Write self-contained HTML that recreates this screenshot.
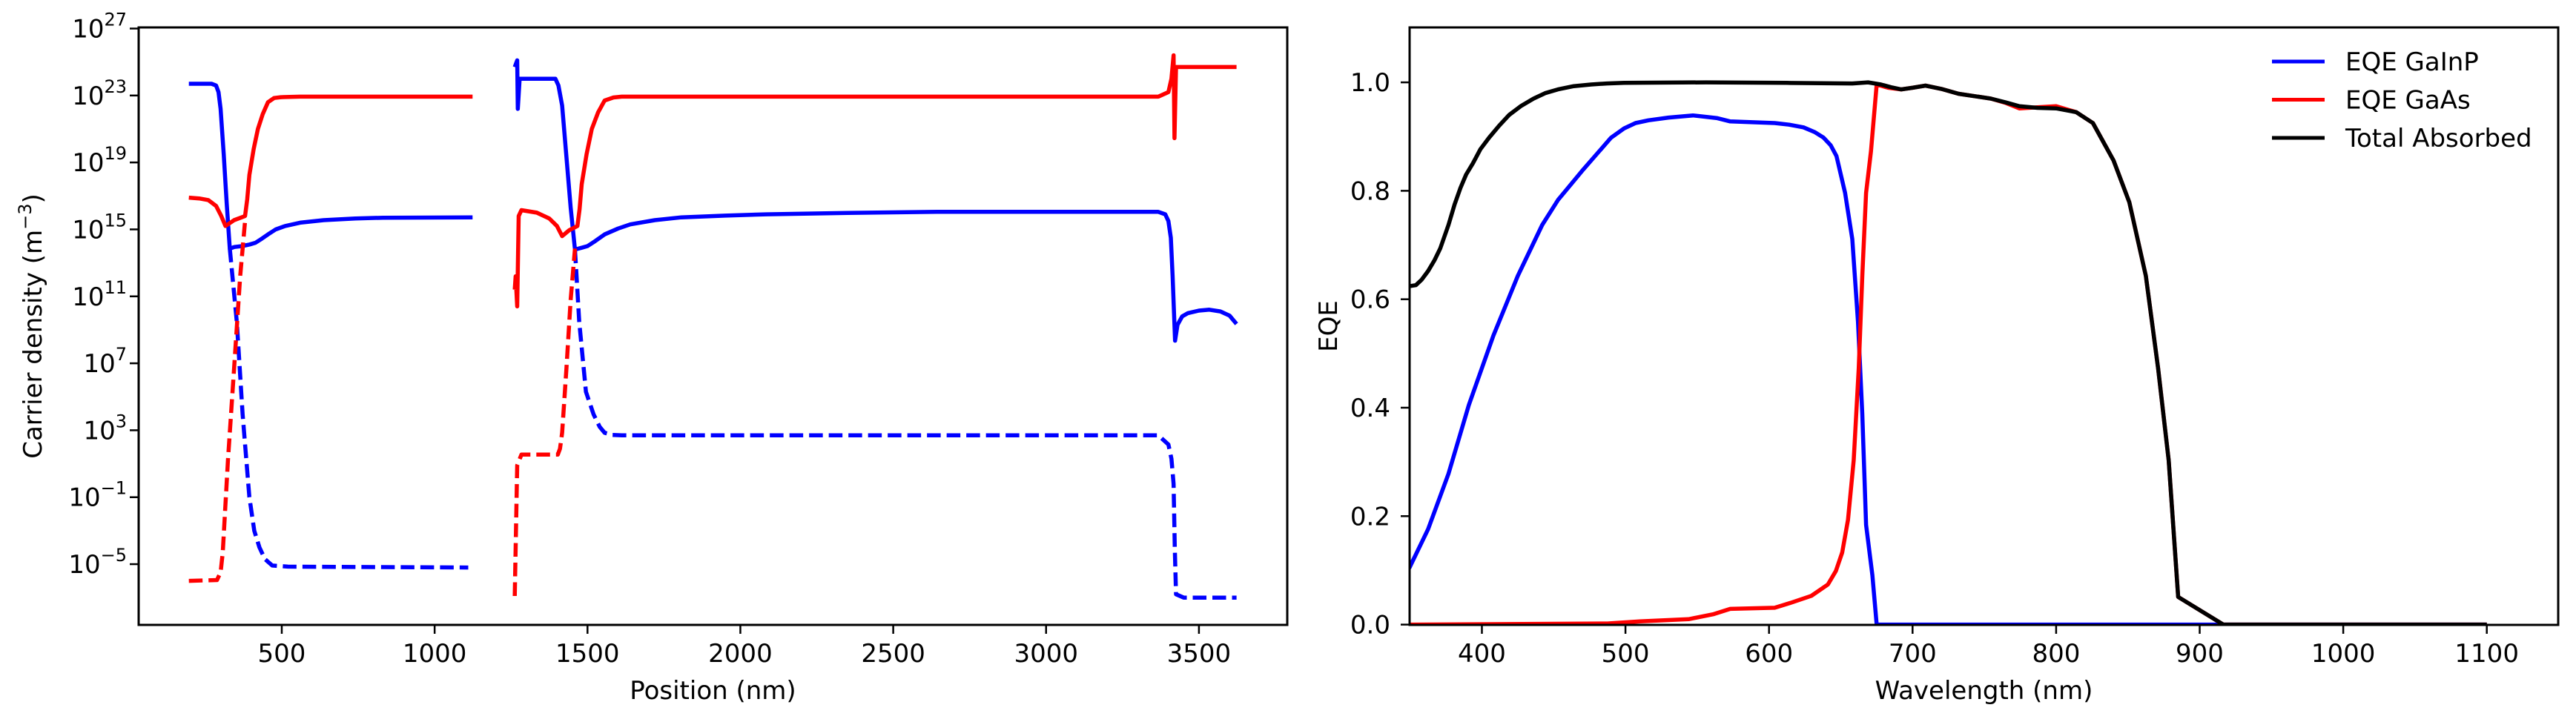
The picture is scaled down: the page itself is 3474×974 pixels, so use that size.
<!DOCTYPE html>
<html><head><meta charset="utf-8"><style>
html,body{margin:0;padding:0;background:#fff;}
svg{display:block;font-family:"DejaVu Sans","Liberation Sans",sans-serif;}
</style></head><body>
<svg id="fig" width="3474" height="974" viewBox="0 0 3474 974" xmlns="http://www.w3.org/2000/svg">
<defs>
<clipPath id="clipL"><rect x="187" y="37" width="1549" height="806"/></clipPath>
<clipPath id="clipR"><rect x="1901" y="37" width="1549" height="806"/></clipPath>
</defs>
<g id="left"></g>
<g id="right"></g>
</svg>
<script>
// ---------- Left chart data (position nm, log10 density) ----------
const leftXTicks = [500, 1000, 1500, 2000, 2500, 3000, 3500];
const leftYTicks = [-5, -1, 3, 7, 11, 15, 19, 23, 27];
const eSolid1X = [196,270,285,293,300,310,320,330,345,370,395,414,435,455,480,511,560,637,740,831,1124];
const eSolid1Y = [23.7,23.7,23.6,23.2,22.2,19.5,16.5,13.85,13.95,14.0,14.1,14.2,14.45,14.7,15.0,15.2,15.4,15.55,15.65,15.7,15.72];
const hSolid1X = [196,230,260,285,302,316,344,380,387,394,408,422,438,455,475,497,560,1124];
const hSolid1Y = [16.9,16.85,16.75,16.4,15.8,15.2,15.55,15.8,16.8,18.25,19.8,21,21.9,22.6,22.85,22.9,22.93,22.93];
const eDash1X = [330,353,372,394,410,427,445,469,520,1110];
const eDash1Y = [13.85,9.45,3.95,-1,-3.0,-4.0,-4.7,-5.08,-5.15,-5.2];
const hDash1X = [196,288,300,307,324,344,364,380];
const hDash1Y = [-6.0,-5.95,-5.5,-4.3,1.2,6.7,12.2,15.5];
const eSolid2X = [1262,1270,1272,1278,1395,1405,1417,1445,1459,1480,1500,1525,1556,1600,1640,1720,1807,1950,2085,2350,2642,3000,3367,3390,3400,3408,3414,3422,3430,3445,3464,3500,3534,3570,3600,3623];
const eSolid2Y = [24.7,25.1,22.2,24.0,24.0,23.6,22.4,16.3,13.8,13.9,14.0,14.3,14.7,15.05,15.3,15.55,15.72,15.82,15.9,15.98,16.05,16.05,16.05,15.9,15.5,14.5,12.2,8.35,9.3,9.8,10.0,10.15,10.2,10.1,9.85,9.35];
const hSolid2X = [1262,1265,1270,1275,1284,1334,1375,1400,1417,1440,1467,1474,1481,1497,1514,1535,1556,1585,1612,3367,3400,3410,3417,3420,3425,3623];
const hSolid2Y = [11.4,12.2,10.4,15.8,16.15,16.0,15.65,15.2,14.6,14.95,15.2,16.2,17.7,19.5,21.0,22.0,22.7,22.88,22.93,22.93,23.2,24.0,25.4,20.45,24.7,24.7];
const eDash2X = [1459,1473,1495,1520,1540,1556,1580,1612,3367,3400,3410,3417,3421,3425,3450,3623];
const eDash2Y = [13.8,9.45,5.3,3.95,3.2,2.85,2.72,2.7,2.7,2.15,1.3,-0.2,-4.0,-6.8,-7.0,-7.0];
const hDash2X = [1262,1270,1284,1403,1410,1417,1431,1445,1459];
const hDash2Y = [-6.9,0.9,1.55,1.55,1.9,2.85,6.7,10.8,13.85];

// ---------- Right chart data (wavelength nm, EQE) ----------
const rightXTicks = [400,500,600,700,800,900,1000,1100];
const rightYTicks = [0.0,0.2,0.4,0.6,0.8,1.0];
const gainpX = [349.4,362.5,376.7,390.9,408,425,442,453,470.5,490,499,507,516,530,547,564,573,604,614,624,632,638,643,647,653,658,662,665,667.6,672,675,1100];
const gainpY = [0.104,0.176,0.278,0.405,0.533,0.643,0.737,0.783,0.839,0.898,0.915,0.925,0.930,0.935,0.939,0.934,0.928,0.925,0.922,0.917,0.908,0.898,0.884,0.864,0.796,0.711,0.558,0.388,0.184,0.091,0.0,0.0];
const gaasX = [349.4,487.5,510,544,561,573,604,615,629.5,641,646.6,651,655,659,662.5,665,667.6,671,675,683,692,700,709,720,732,754.5,765,774.4,787,800,814,825.6,840,851,862.5,871,878.4,885,916.5,1100];
const gaasY = [0.0,0.002,0.006,0.010,0.019,0.029,0.031,0.040,0.053,0.074,0.099,0.133,0.193,0.303,0.473,0.643,0.796,0.873,0.996,0.990,0.987,0.990,0.994,0.988,0.979,0.970,0.962,0.952,0.954,0.956,0.945,0.925,0.856,0.779,0.643,0.473,0.303,0.051,0.0,0.0];
const totalX = [349.4,354,358,362.5,367,371,376.7,381,385,389,393.8,399,405,412,419,427,436,444,453,464,476,487,499,556,612.5,658,669,678,685,692,700,709,720,732,754.5,765,774.4,787,800,814,825.6,840,851,862.5,871,878.4,885,916.5,1100];
const totalY = [0.624,0.626,0.636,0.652,0.672,0.694,0.737,0.775,0.805,0.830,0.851,0.877,0.898,0.920,0.940,0.956,0.970,0.980,0.987,0.993,0.996,0.998,0.999,1.0,0.999,0.998,1.0,0.996,0.991,0.987,0.990,0.994,0.988,0.979,0.970,0.963,0.956,0.953,0.952,0.945,0.925,0.856,0.779,0.643,0.473,0.303,0.051,0.0,0.0];
const legendLabels = ["EQE GaInP","EQE GaAs","Total Absorbed"];

const NS = "http://www.w3.org/2000/svg";
function mk(tag, attrs, parent){const e=document.createElementNS(NS,tag);for(const k in attrs)e.setAttribute(k,attrs[k]);parent.appendChild(e);return e;}

const L = {x0:187, x1:1736, y0:37, y1:843};
const R = {x0:1901, x1:3450, y0:37, y1:843};
const lx = p => 380 + (p-500)*0.4123;
const ly = v => 38.5 + (27 - v)*22.58;
const rx = w => 1998.5 + (w-400)*1.936;
const ry = v => 842.6 - v*731.5;
const FS = 34;

const gl = document.getElementById('left');
const gr = document.getElementById('right');

function line(g, xs, ys, fx, fy, color, dashed, name, clip){
  const d = xs.map((x,i)=>(i?'L':'M')+fx(x).toFixed(1)+' '+fy(ys[i]).toFixed(1)).join(' ');
  const p = mk('path',{d:d,fill:'none',stroke:color,'stroke-width':5.5,'stroke-linejoin':'round','clip-path':'url(#'+clip+')'},g);
  if(dashed) p.setAttribute('stroke-dasharray','18.5 8');
  
  
}

line(gl,eSolid1X,eSolid1Y,lx,ly,'#0000ff',false,'electron-density-gainp','clipL');
line(gl,hSolid1X,hSolid1Y,lx,ly,'#ff0000',false,'hole-density-gainp','clipL');
line(gl,eDash1X,eDash1Y,lx,ly,'#0000ff',true,'electron-density-dark-gainp','clipL');
line(gl,hDash1X,hDash1Y,lx,ly,'#ff0000',true,'hole-density-dark-gainp','clipL');
line(gl,eSolid2X,eSolid2Y,lx,ly,'#0000ff',false,'electron-density-gaas','clipL');
line(gl,hSolid2X,hSolid2Y,lx,ly,'#ff0000',false,'hole-density-gaas','clipL');
line(gl,eDash2X,eDash2Y,lx,ly,'#0000ff',true,'electron-density-dark-gaas','clipL');
line(gl,hDash2X,hDash2Y,lx,ly,'#ff0000',true,'hole-density-dark-gaas','clipL');

const fL = mk('rect',{x:L.x0,y:L.y0,width:L.x1-L.x0,height:L.y1-L.y0,fill:'none',stroke:'#000','stroke-width':3},gl);


leftXTicks.forEach(t=>{
  const x=lx(t);
  const tk=mk('line',{x1:x,x2:x,y1:L.y1,y2:L.y1+12,stroke:'#000','stroke-width':2.5},gl);
  
  
  const tx=mk('text',{x:x,y:L.y1+50,'text-anchor':'middle','font-size':FS},gl);
  tx.textContent=t;
  
  
});
leftYTicks.forEach(t=>{
  const y=ly(t);
  const tk=mk('line',{x1:L.x0-12,x2:L.x0,y1:y,y2:y,stroke:'#000','stroke-width':2.5},gl);
  
  
  const tx=mk('text',{x:L.x0-16,y:y+12,'text-anchor':'end','font-size':FS},gl);
  
  
  const a=mk('tspan',{},tx); a.textContent='10';
  const b=mk('tspan',{dy:-16,'font-size':24},tx); b.textContent=(t<0?'\u2212'+(-t):String(t));
});
const xlL=mk('text',{x:(L.x0+L.x1)/2,y:943,'text-anchor':'middle','font-size':FS},gl);
xlL.textContent='Position (nm)';


const ylL=mk('text',{x:0,y:0,'text-anchor':'middle','font-size':FS,transform:'translate(56,440) rotate(-90)'},gl);


const y1=mk('tspan',{},ylL); y1.textContent='Carrier density (m';
const y2=mk('tspan',{dy:-14,'font-size':24},ylL); y2.textContent='\u22123';
const y3=mk('tspan',{dy:14},ylL); y3.textContent=')';

line(gr,gainpX,gainpY,rx,ry,'#0000ff',false,'eqe-gainp-line','clipR');
line(gr,gaasX,gaasY,rx,ry,'#ff0000',false,'eqe-gaas-line','clipR');
line(gr,totalX,totalY,rx,ry,'#000000',false,'total-absorbed-line','clipR');

const fR = mk('rect',{x:R.x0,y:R.y0,width:R.x1-R.x0,height:R.y1-R.y0,fill:'none',stroke:'#000','stroke-width':3},gr);


rightXTicks.forEach(t=>{
  const x=rx(t);
  const tk=mk('line',{x1:x,x2:x,y1:R.y1,y2:R.y1+12,stroke:'#000','stroke-width':2.5},gr);
  
  
  const tx=mk('text',{x:x,y:R.y1+50,'text-anchor':'middle','font-size':FS},gr);
  tx.textContent=t;
  
  
});
rightYTicks.forEach(t=>{
  const y=ry(t);
  const tk=mk('line',{x1:R.x0-12,x2:R.x0,y1:y,y2:y,stroke:'#000','stroke-width':2.5},gr);
  
  
  const tx=mk('text',{x:R.x0-26,y:y+12,'text-anchor':'end','font-size':FS},gr);
  tx.textContent=t.toFixed(1);
  
  
});
const xlR=mk('text',{x:(R.x0+R.x1)/2,y:943,'text-anchor':'middle','font-size':FS},gr);
xlR.textContent='Wavelength (nm)';


const ylR=mk('text',{x:0,y:0,'text-anchor':'middle','font-size':FS,transform:'translate(1803,440) rotate(-90)'},gr);
ylR.textContent='EQE';



const legColors=['#0000ff','#ff0000','#000000'];
const lg=mk('g',{},gr);


legendLabels.forEach((lab,i)=>{
  const y=83+i*51.5;
  const ent=mk('g',{},lg);
  
  
  mk('line',{x1:3064,x2:3135,y1:y,y2:y,stroke:legColors[i],'stroke-width':5},ent);
  const t=mk('text',{x:3163,y:y+12,'font-size':FS},ent);
  t.textContent=lab;
});
</script>
</body></html>
